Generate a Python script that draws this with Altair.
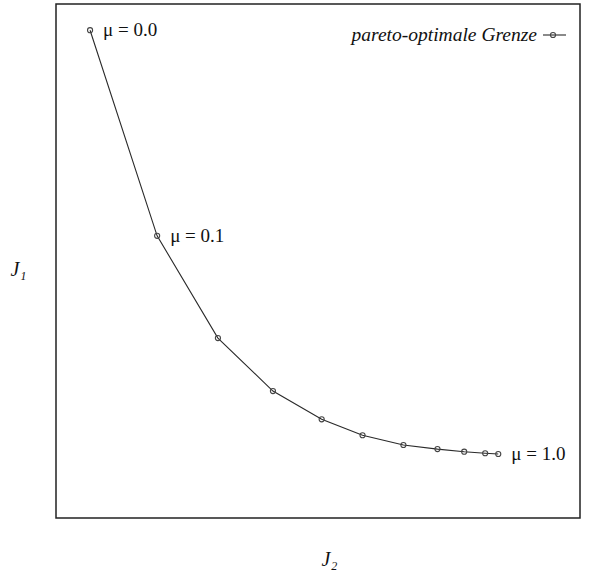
import altair as alt
import pandas as pd

# Pareto front samples for mu = 0.0, 0.1, ..., 1.0 (normalised cost values)
mu = [0.0, 0.1, 0.2, 0.3, 0.4, 0.5, 0.6, 0.7, 0.8, 0.9, 1.0]
j2 = [0.065, 0.193, 0.309, 0.414, 0.507, 0.585, 0.663, 0.728, 0.779, 0.819, 0.844]
j1 = [0.949, 0.549, 0.350, 0.247, 0.192, 0.161, 0.142, 0.134, 0.129, 0.126, 0.1245]
labelled = [0.0, 0.1, 1.0]

df = pd.DataFrame({"mu": mu, "J2": j2, "J1": j1})
df["label"] = ["μ\u2005=\u20050.%s" % str(m).split(".")[1] if m < 1 else "μ\u2005=\u20051.0"
               for m in mu]
df.loc[~df["mu"].isin(labelled), "label"] = ""

SERIF = "Liberation Serif"
INK = "#2a2a2a"

x_enc = alt.X("J2:Q", scale=alt.Scale(domain=[0, 1], nice=False, zero=False),
              axis=alt.Axis(title="J₂", ticks=False, labels=False, grid=False,
                            domain=False, titleFont=SERIF, titleFontSize=20,
                            titleFontWeight="normal", titleFontStyle="italic",
                            titleColor="#111", titleX=273, titleY=41,
                            titleAlign="center", titleBaseline="middle"))
y_enc = alt.Y("J1:Q", scale=alt.Scale(domain=[0, 1], nice=False, zero=False),
              axis=alt.Axis(title="J₁", ticks=False, labels=False, grid=False,
                            domain=False, titleFont=SERIF, titleFontSize=20,
                            titleFontWeight="normal", titleFontStyle="italic",
                            titleColor="#111", titleAngle=0, titleX=-38, titleY=265,
                            titleAlign="center", titleBaseline="middle"))

base = alt.Chart(df).encode(x=x_enc, y=y_enc)

front = base.mark_line(color=INK, strokeWidth=1.1)
dots = base.mark_point(shape="circle", size=26, filled=False, color="#444",
                       strokeWidth=1.1, opacity=1)
labels = base.mark_text(align="left", baseline="middle", dx=13, font=SERIF,
                        fontSize=19, color="#111").encode(text="label:N")

# legend entry: label followed by a line sample with a circle marker
legend_text = alt.Chart(pd.DataFrame({"t": ["pareto-optimale Grenze"]})).mark_text(
    align="right", baseline="middle", font=SERIF, fontSize=19.5, fontStyle="italic",
    color="#111").encode(text="t:N", x=alt.value(481), y=alt.value(31))
legend_line = alt.Chart(pd.DataFrame({"a": [0]})).mark_rule(
    color=INK, strokeWidth=1.1).encode(x=alt.value(487), x2=alt.value(510),
                                        y=alt.value(31))
legend_dot = alt.Chart(pd.DataFrame({"a": [0]})).mark_point(
    shape="circle", size=26, filled=False, color="#444", strokeWidth=1.1,
    opacity=1).encode(x=alt.value(497), y=alt.value(31))

chart = alt.layer(front, dots, labels, legend_text, legend_line, legend_dot).properties(
    width=524, height=514,
    autosize=alt.AutoSizeParams(type="none"),
    padding={"left": 56, "top": 4, "right": 13, "bottom": 53},
    background="white",
).configure_view(stroke="#222", strokeWidth=1.5)

chart.save("out.html", embed_options={"renderer": "svg", "actions": False})
